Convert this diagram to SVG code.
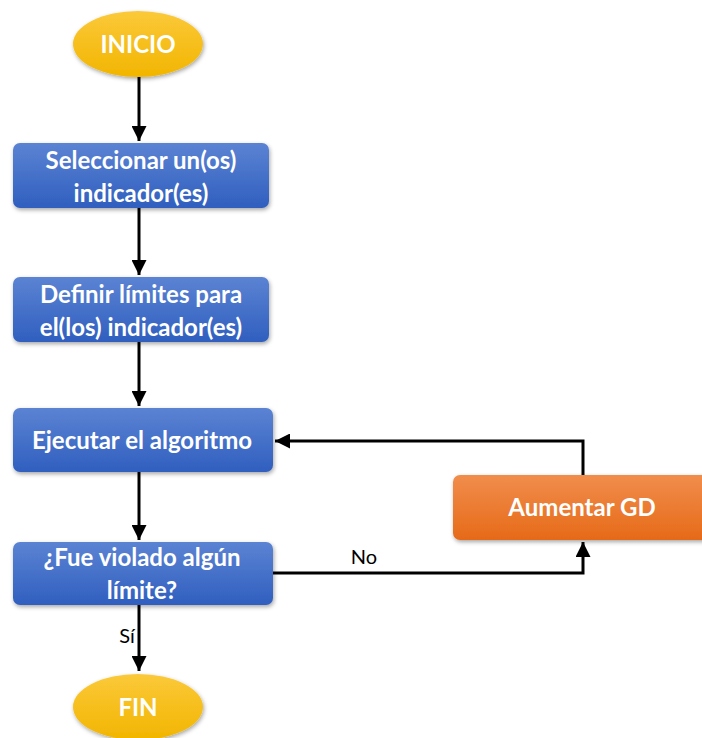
<svg xmlns="http://www.w3.org/2000/svg" width="702" height="738" viewBox="0 0 702 738">
<defs>
<linearGradient id="gBlue" x1="0" y1="0" x2="0" y2="1"><stop offset="0" stop-color="#5b83d3"/><stop offset="1" stop-color="#305fbf"/></linearGradient>
<linearGradient id="gYel" x1="0" y1="0" x2="0" y2="1"><stop offset="0" stop-color="#fbc93a"/><stop offset="1" stop-color="#f2b500"/></linearGradient>
<linearGradient id="gOr" x1="0" y1="0" x2="0" y2="1"><stop offset="0" stop-color="#f18d4c"/><stop offset="1" stop-color="#e66a18"/></linearGradient>
<filter id="sh" x="-10%" y="-10%" width="120%" height="130%"><feDropShadow dx="1" dy="2" stdDeviation="2" flood-color="#000" flood-opacity="0.35"/></filter>
<marker id="ah" viewBox="0 0 10 10" refX="10" refY="5" markerWidth="5" markerHeight="5" orient="auto" markerUnits="strokeWidth"><path d="M0,0 L10,5 L0,10 z" fill="#000"/></marker>
</defs>
<style>
.lbl{font-family:"Lato","Liberation Sans",sans-serif;font-weight:bold;font-size:24px;fill:#fff;text-anchor:middle}
.edge{font-family:"Lato","Liberation Sans",sans-serif;font-size:20px;fill:#000}
.ln{stroke:#000;stroke-width:3;fill:none}
</style>
<rect width="702" height="738" fill="#fff"/>
<g id="connectors">
<line class="ln" x1="139" y1="77" x2="139" y2="141" marker-end="url(#ah)"/>
<line class="ln" x1="139" y1="208" x2="139" y2="275" marker-end="url(#ah)"/>
<line class="ln" x1="139" y1="342" x2="139" y2="406" marker-end="url(#ah)"/>
<line class="ln" x1="139" y1="472" x2="139" y2="540" marker-end="url(#ah)"/>
<line class="ln" x1="139" y1="605" x2="139" y2="671" marker-end="url(#ah)"/>
<polyline class="ln" points="273,573 583,573 583,542" marker-end="url(#ah)"/>
<polyline class="ln" points="583,475 583,441 275,441" marker-end="url(#ah)"/>
<text class="edge" x="364" y="564" text-anchor="middle">No</text>
<text class="edge" x="127" y="643" text-anchor="middle">Sí</text>
</g>
<g id="inicio">
<ellipse cx="138" cy="44" rx="65" ry="33" fill="url(#gYel)" filter="url(#sh)"/>
<text class="lbl" x="138" y="53">INICIO</text>
</g>
<g id="seleccionar">
<rect x="13" y="143" width="256" height="65" rx="7" fill="url(#gBlue)" filter="url(#sh)"/>
<text class="lbl" x="141" y="169">Seleccionar un(os)</text>
<text class="lbl" x="141" y="202">indicador(es)</text>
</g>
<g id="definir">
<rect x="13" y="277" width="256" height="65" rx="7" fill="url(#gBlue)" filter="url(#sh)"/>
<text class="lbl" x="141" y="303">Definir límites para</text>
<text class="lbl" x="141" y="336">el(los) indicador(es)</text>
</g>
<g id="ejecutar">
<rect x="13" y="408" width="260" height="64" rx="7" fill="url(#gBlue)" filter="url(#sh)"/>
<text class="lbl" x="142" y="449">Ejecutar el algoritmo</text>
</g>
<g id="violado">
<rect x="13" y="542" width="260" height="63" rx="7" fill="url(#gBlue)" filter="url(#sh)"/>
<text class="lbl" x="142" y="566">¿Fue violado algún</text>
<text class="lbl" x="142" y="599">límite?</text>
</g>
<g id="aumentar">
<rect x="453" y="475" width="260" height="65" rx="7" fill="url(#gOr)" filter="url(#sh)"/>
<text class="lbl" x="582" y="516">Aumentar GD</text>
</g>
<g id="fin">
<ellipse cx="138" cy="707" rx="65" ry="33" fill="url(#gYel)" filter="url(#sh)"/>
<text class="lbl" x="138" y="716">FIN</text>
</g>
</svg>
